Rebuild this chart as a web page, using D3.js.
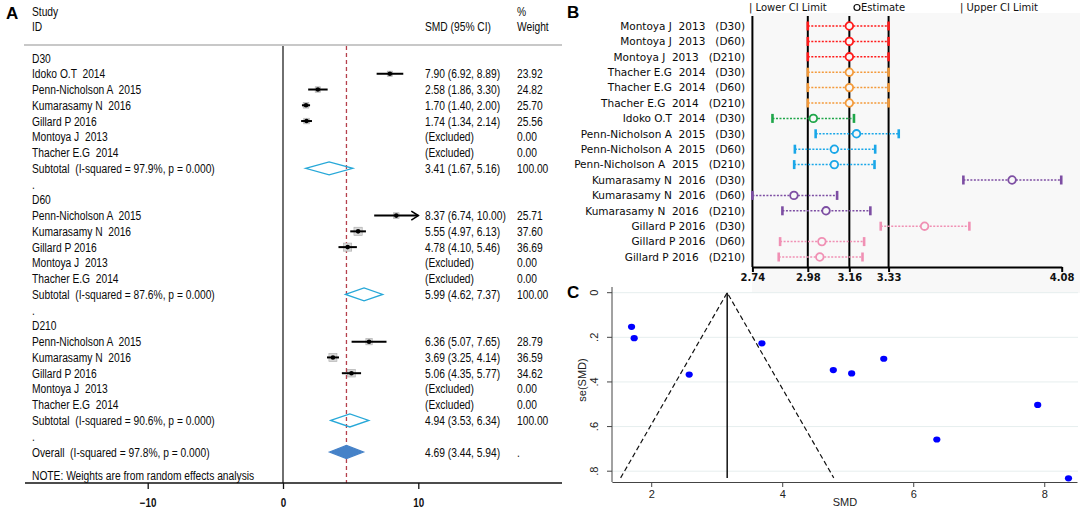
<!DOCTYPE html>
<html>
<head>
<meta charset="utf-8">
<script src="https://cdn.jsdelivr.net/npm/d3@7"></script>
<style>
body { margin: 0; background: #fff; }
svg text { white-space: pre; }
</style>
</head>
<body>
<div id="figure"></div>
<script>
// ---------- A: forest plot ----------
var groupNames = ["D30", "D60", "D210"];

var d30Studies = ["Idoko O.T  2014", "Penn-Nicholson A  2015", "Kumarasamy N  2016", "Gillard P 2016", "Montoya J  2013", "Thacher E.G  2014"];
var d30Smd = [7.90, 2.58, 1.70, 1.74, null, null];
var d30Lo = [6.92, 1.86, 1.40, 1.34, null, null];
var d30Hi = [8.89, 3.30, 2.00, 2.14, null, null];
var d30Weight = [23.92, 24.82, 25.70, 25.56, 0, 0];

var laterStudies = ["Penn-Nicholson A  2015", "Kumarasamy N  2016", "Gillard P 2016", "Montoya J  2013", "Thacher E.G  2014"];
var d60Smd = [8.37, 5.55, 4.78, null, null];
var d60Lo = [6.74, 4.97, 4.10, null, null];
var d60Hi = [10.00, 6.13, 5.46, null, null];
var d60Weight = [25.71, 37.60, 36.69, 0, 0];

var d210Smd = [6.36, 3.69, 5.06, null, null];
var d210Lo = [5.07, 3.25, 4.35, null, null];
var d210Hi = [7.65, 4.14, 5.77, null, null];
var d210Weight = [28.79, 36.59, 34.62, 0, 0];

var subSmd = [3.41, 5.99, 4.94];
var subLo = [1.67, 4.62, 3.53];
var subHi = [5.16, 7.37, 6.34];
var subI2 = [97.9, 87.6, 90.6];

var overallSmd = 4.69, overallLo = 3.44, overallHi = 5.94, overallI2 = 97.8;
var forestTicks = [-10, 0, 10];

// ---------- B: sensitivity analysis ----------
var sensStudy = ["Montoya J  2013", "Montoya J  2013", "Montoya J  2013",
    "Thacher E.G  2014", "Thacher E.G  2014", "Thacher E.G  2014",
    "Idoko O.T  2014",
    "Penn-Nicholson A  2015", "Penn-Nicholson A  2015", "Penn-Nicholson A  2015",
    "Kumarasamy N  2016", "Kumarasamy N  2016", "Kumarasamy N  2016",
    "Gillard P 2016", "Gillard P 2016", "Gillard P 2016"];
var sensDay = ["D30", "D60", "D210", "D30", "D60", "D210", "D30", "D30", "D60", "D210", "D30", "D60", "D210", "D30", "D60", "D210"];
var sensLower = [2.98, 2.98, 2.98, 2.98, 2.98, 2.98, 2.827, 3.014, 2.924, 2.921, 3.654, 2.74, 2.87, 3.296, 2.86, 2.854];
var sensEst = [3.16, 3.16, 3.16, 3.16, 3.16, 3.16, 3.004, 3.191, 3.095, 3.095, 3.865, 2.92, 3.059, 3.486, 3.041, 3.032];
var sensUpper = [3.33, 3.33, 3.33, 3.33, 3.33, 3.33, 3.18, 3.374, 3.272, 3.269, 4.078, 3.107, 3.251, 3.68, 3.224, 3.217];
var sensTicks = [2.74, 2.98, 3.16, 3.33, 4.08];
var sensRefs = [2.98, 3.16, 3.33];

// ---------- C: funnel plot ----------
var funnelSmd = [1.70, 1.74, 2.58, 3.69, 4.78, 5.06, 5.55, 7.90, 6.36, 8.37];
var funnelSe = [0.153, 0.204, 0.367, 0.227, 0.347, 0.362, 0.296, 0.503, 0.658, 0.832];
var funnelCentre = 3.16, funnelSeMax = 0.83;
var funnelXTicks = [2, 4, 6, 8];
var funnelYTicks = [0, 0.2, 0.4, 0.6, 0.8];

var svg = d3.select("#figure").append("svg")
    .attr("width", 1084)
    .attr("height", 509);

var arial = "'Liberation Sans',Arial,sans-serif";
var deja = "'DejaVu Sans',Verdana,sans-serif";
var f2 = d3.format(".2f");
var squeeze = 0.82; // stata's forest text is a narrow face, squeeze arial to match

// place a squeezed text at page x
function narrowAt(sel, x) {
    return sel.attr("x", x / squeeze).attr("transform", "scale(" + squeeze + ",1)");
}

// panel letters
[["A", 6, 19], ["B", 567, 18], ["C", 567, 298]].forEach(function (p) {
    svg.append("text").attr("x", p[1]).attr("y", p[2]).text(p[0])
        .style("font-family", arial).style("font-weight", "bold").style("font-size", "17px");
});

// ================= panel A =================
var gA = svg.append("g").style("font-family", arial).style("font-size", "12.5px").attr("fill", "#0a0a0a");

var xA = d3.scaleLinear().domain([-10, 10]).range([147.7, 418.3]);
var yA = d3.scaleLinear().domain([0, 25]).range([58, 452]);

var groups = [
    {name: groupNames[0], study: d30Studies, smd: d30Smd, lo: d30Lo, hi: d30Hi, wt: d30Weight},
    {name: groupNames[1], study: laterStudies, smd: d60Smd, lo: d60Lo, hi: d60Hi, wt: d60Weight},
    {name: groupNames[2], study: laterStudies, smd: d210Smd, lo: d210Lo, hi: d210Hi, wt: d210Weight}
];

var rows = [];
groups.forEach(function (g, gi) {
    rows.push({kind: "head", label: g.name});
    g.study.forEach(function (s, i) {
        rows.push({kind: "study", label: s, smd: g.smd[i], lo: g.lo[i], hi: g.hi[i], wt: g.wt[i]});
    });
    rows.push({kind: "sub", label: "Subtotal  (I-squared = " + subI2[gi].toFixed(1) + "%, p = 0.000)",
        smd: subSmd[gi], lo: subLo[gi], hi: subHi[gi], wt: 100});
    rows.push({kind: "gap", label: "."});
});
rows.push({kind: "overall", label: "Overall  (I-squared = " + overallI2.toFixed(1) + "%, p = 0.000)",
    smd: overallSmd, lo: overallLo, hi: overallHi, wt: null});

// header
narrowAt(gA.append("text").attr("y", 16).text("Study"), 32);
narrowAt(gA.append("text").attr("y", 31).text("ID"), 32);
narrowAt(gA.append("text").attr("y", 31).text("SMD (95% CI)"), 425);
narrowAt(gA.append("text").attr("y", 16).text("%"), 517);
narrowAt(gA.append("text").attr("y", 31).text("Weight"), 517);
gA.append("line").attr("x1", 24).attr("x2", 562).attr("y1", 45).attr("y2", 45)
    .attr("stroke", "#c8c8c8").attr("stroke-width", 2);

// no-effect line and overall line
gA.append("line").attr("x1", xA(0)).attr("x2", xA(0)).attr("y1", 46).attr("y2", 483)
    .attr("stroke", "#222").attr("stroke-width", 1.3);
gA.append("line").attr("x1", xA(overallSmd)).attr("x2", xA(overallSmd)).attr("y1", 46).attr("y2", 483)
    .attr("stroke", "#b5404c").attr("stroke-width", 1.3).attr("stroke-dasharray", "4,3");

var rowG = gA.selectAll(".row").data(rows).enter().append("g")
    .attr("transform", function (d, i) { return "translate(0," + yA(i) + ")"; });

narrowAt(rowG.append("text").attr("y", 4.5).text(function (d) { return d.label; }), 32);

var statRows = rowG.filter(function (d) { return d.kind !== "head" && d.kind !== "gap"; });
narrowAt(statRows.append("text").attr("y", 4.5)
    .text(function (d) { return d.smd == null ? "(Excluded)" : f2(d.smd) + " (" + f2(d.lo) + ", " + f2(d.hi) + ")"; }), 425);
narrowAt(statRows.append("text").attr("y", 4.5)
    .text(function (d) { return d.wt == null ? "." : f2(d.wt); }), 517);

// study estimates
var studyRows = rowG.filter(function (d) { return d.kind === "study" && d.smd != null; });
studyRows.append("rect")
    .attr("x", function (d) { return xA(d.smd) - d.wt * 0.11; })
    .attr("y", function (d) { return -d.wt * 0.11; })
    .attr("width", function (d) { return d.wt * 0.22; })
    .attr("height", function (d) { return d.wt * 0.22; })
    .attr("fill", "#d8d8d8").attr("stroke", "#aaa").attr("stroke-width", 0.6);
studyRows.append("line")
    .attr("x1", function (d) { return xA(d.lo); })
    .attr("x2", function (d) { return xA(Math.min(d.hi, 10)); })
    .attr("stroke", "#000").attr("stroke-width", 2);
studyRows.append("circle").attr("cx", function (d) { return xA(d.smd); }).attr("r", 2.3).attr("fill", "#000");
studyRows.filter(function (d) { return d.hi >= 10; }).append("path")
    .attr("d", function (d) { var t = xA(10); return "M" + (t - 7) + ",-4.5L" + t + ",0L" + (t - 7) + ",4.5"; })
    .attr("fill", "none").attr("stroke", "#000").attr("stroke-width", 1.6);

// pooled diamonds
rowG.filter(function (d) { return d.kind === "sub" || d.kind === "overall"; })
    .append("path")
    .attr("d", function (d) {
        return "M" + xA(d.lo) + ",0L" + xA(d.smd) + ",-6.5L" + xA(d.hi) + ",0L" + xA(d.smd) + ",6.5Z";
    })
    .attr("fill", function (d) { return d.kind === "overall" ? "#4682c8" : "none"; })
    .attr("stroke", function (d) { return d.kind === "overall" ? "#4682c8" : "#27a8d8"; })
    .attr("stroke-width", 1.3);

narrowAt(gA.append("text").attr("y", 480).text("NOTE: Weights are from random effects analysis"), 32);

// x axis
gA.append("line").attr("x1", 25).attr("x2", 562).attr("y1", 483).attr("y2", 483)
    .attr("stroke", "#111").attr("stroke-width", 1.3);
var axA = gA.append("g").attr("transform", "translate(0,483)")
    .call(d3.axisBottom(xA).tickValues(forestTicks).tickSize(6).tickFormat(d3.format("d")));
axA.select(".domain").remove();
axA.selectAll("line").attr("stroke", "#111").attr("stroke-width", 1.3);
axA.selectAll("text").attr("dy", "1.25em").attr("transform", "scale(" + squeeze + ",1)")
    .style("font-family", arial).style("font-size", "12px")
    .style("font-weight", "bold").attr("fill", "#111");

// ================= panel B =================
var gB = svg.append("g").style("font-family", deja).style("font-size", "10px");

var xB = d3.scaleLinear().domain([2.74, 4.08]).range([752.4, 1061.7]);
var yB = d3.scaleLinear().domain([0, 15]).range([26, 257]);
var studyColor = d3.scaleOrdinal()
    .domain(["Montoya J  2013", "Thacher E.G  2014", "Idoko O.T  2014", "Penn-Nicholson A  2015", "Kumarasamy N  2016", "Gillard P 2016"])
    .range(["#ff1a1a", "#f39a3a", "#1fa64a", "#1aa7e8", "#7d4ea3", "#f090b4"]);

gB.append("rect").attr("x", 752).attr("y", 13).attr("width", 328).attr("height", 280).attr("fill", "#f8f8f8");

gB.append("text").attr("x", 749).attr("y", 11).attr("fill", "#111").text("| Lower CI Limit");
gB.append("circle").attr("cx", 857).attr("cy", 7.5).attr("r", 3).attr("fill", "none").attr("stroke", "#111").attr("stroke-width", 1.2);
gB.append("text").attr("x", 861).attr("y", 11).attr("fill", "#111").text("Estimate");
gB.append("text").attr("x", 960).attr("y", 11).attr("fill", "#111").text("| Upper CI Limit");

gB.selectAll(".ref").data([2.74].concat(sensRefs)).enter().append("line")
    .attr("x1", function (d) { return xB(d); }).attr("x2", function (d) { return xB(d); })
    .attr("y1", 16).attr("y2", 267).attr("stroke", "#000").attr("stroke-width", 2);

var axB = gB.append("g").attr("transform", "translate(0,267)")
    .call(d3.axisBottom(xB).tickValues(sensTicks).tickSize(5).tickSizeOuter(0).tickFormat(d3.format(".2f")));
axB.select(".domain").attr("stroke", "#000").attr("stroke-width", 2);
axB.selectAll("line").attr("stroke", "#000").attr("stroke-width", 2);
axB.selectAll("text").attr("dy", "0.6em").style("font-family", deja).style("font-size", "10px")
    .style("font-weight", "bold").attr("fill", "#111");

var sensRows = gB.selectAll(".sens").data(sensEst).enter().append("g")
    .attr("transform", function (d, i) { return "translate(0," + yB(i) + ")"; });
sensRows.append("text").attr("x", 745).attr("y", 3.7).attr("text-anchor", "end").attr("fill", "#0a0a0a")
    .style("font-size", "10.5px")
    .text(function (d, i) { return sensStudy[i] + "   (" + sensDay[i] + ")"; });
sensRows.append("line")
    .attr("x1", function (d, i) { return xB(sensLower[i]); })
    .attr("x2", function (d, i) { return xB(sensUpper[i]); })
    .attr("stroke", function (d, i) { return studyColor(sensStudy[i]); })
    .attr("stroke-width", 1.5).attr("stroke-dasharray", "2,1.5");
[sensLower, sensUpper].forEach(function (arr) {
    sensRows.append("rect")
        .attr("x", function (d, i) { return xB(arr[i]) - 1.3; })
        .attr("y", -4.5).attr("width", 2.6).attr("height", 9)
        .attr("fill", function (d, i) { return studyColor(sensStudy[i]); });
});
sensRows.append("circle")
    .attr("cx", function (d) { return xB(d); }).attr("r", 3.8)
    .attr("fill", "#f8f8f8").attr("stroke-width", 1.8)
    .attr("stroke", function (d, i) { return studyColor(sensStudy[i]); });

// ================= panel C =================
var gC = svg.append("g").style("font-family", arial).style("font-size", "11px");

var xC = d3.scaleLinear().domain([1.4, 8.5]).range([611.9, 1077]);
var yC = d3.scaleLinear().domain([0, 0.8]).range([292.7, 471.2]);

gC.selectAll(".grid").data(funnelYTicks).enter().append("line")
    .attr("x1", 612).attr("x2", 1078)
    .attr("y1", function (d) { return yC(d); }).attr("y2", function (d) { return yC(d); })
    .attr("stroke", "#e6eeee").attr("stroke-width", 1);

var axCx = gC.append("g").attr("transform", "translate(0,482)")
    .call(d3.axisBottom(xC).tickValues(funnelXTicks).tickSize(5).tickSizeOuter(0));
axCx.select(".domain").attr("stroke", "#444");
axCx.selectAll("line").attr("stroke", "#444");
axCx.selectAll("text").style("font-family", arial).style("font-size", "11px").attr("fill", "#222");

gC.append("line").attr("x1", 612).attr("x2", 612).attr("y1", 287).attr("y2", 482).attr("stroke", "#444");
gC.selectAll(".yt").data(funnelYTicks).enter().append("line")
    .attr("x1", 607).attr("x2", 612)
    .attr("y1", function (d) { return yC(d); }).attr("y2", function (d) { return yC(d); })
    .attr("stroke", "#444");
gC.selectAll(".yl").data(funnelYTicks).enter().append("text")
    .attr("transform", function (d) { return "translate(598," + yC(d) + ") rotate(-90)"; })
    .attr("text-anchor", "middle").attr("fill", "#222")
    .text(function (d) { return d === 0 ? "0" : "." + Math.round(d * 10); });

gC.append("text").attr("transform", "translate(586,380) rotate(-90)").attr("text-anchor", "middle")
    .attr("fill", "#222").text("se(SMD)");
gC.append("text").attr("x", 845).attr("y", 506).attr("text-anchor", "middle").attr("fill", "#222").text("SMD");

// funnel limits
gC.append("path")
    .attr("d", "M" + xC(funnelCentre - 1.96 * funnelSeMax) + "," + yC(funnelSeMax) +
        "L" + xC(funnelCentre) + "," + yC(0) +
        "L" + xC(funnelCentre + 1.96 * funnelSeMax) + "," + yC(funnelSeMax))
    .attr("fill", "none").attr("stroke", "#111").attr("stroke-width", 1.2).attr("stroke-dasharray", "5,3");
gC.append("line").attr("x1", xC(funnelCentre)).attr("x2", xC(funnelCentre))
    .attr("y1", yC(0)).attr("y2", yC(funnelSeMax)).attr("stroke", "#111").attr("stroke-width", 1.5);

gC.selectAll(".pt").data(funnelSmd).enter().append("ellipse")
    .attr("cx", function (d) { return xC(d); })
    .attr("cy", function (d, i) { return yC(funnelSe[i]); })
    .attr("rx", 3.6).attr("ry", 3.1)
    .attr("fill", "#0000ff");
</script>
</body>
</html>
